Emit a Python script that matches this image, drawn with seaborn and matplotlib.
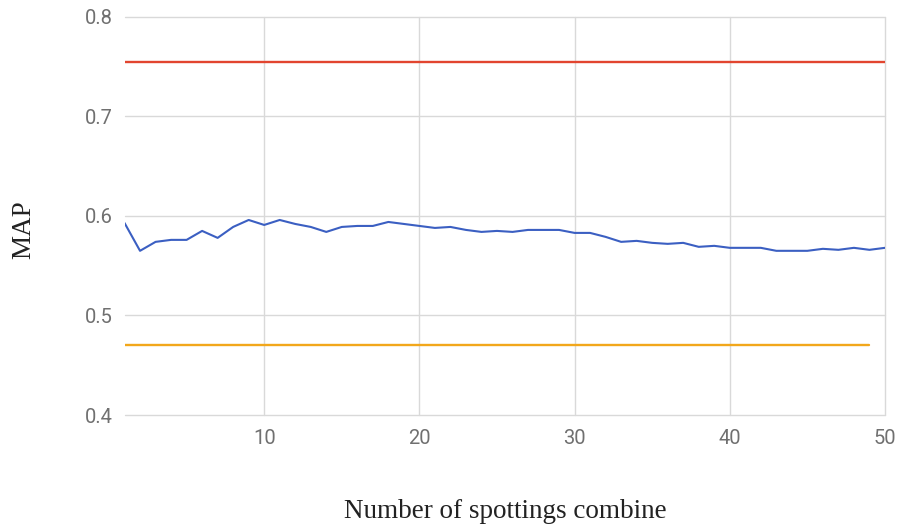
import matplotlib
matplotlib.use("Agg")
import matplotlib.pyplot as plt
import seaborn as sns
import pandas as pd

# MAP as a function of how many spottings are combined
n_combined = list(range(1, 51))
map_combined = [
    0.593, 0.565, 0.574, 0.576, 0.576, 0.585, 0.578, 0.589, 0.596, 0.591,
    0.596, 0.592, 0.589, 0.584, 0.589, 0.590, 0.590, 0.594, 0.592, 0.590,
    0.588, 0.589, 0.586, 0.584, 0.585, 0.584, 0.586, 0.586, 0.586, 0.583,
    0.583, 0.579, 0.574, 0.575, 0.573, 0.572, 0.573, 0.569, 0.570, 0.568,
    0.568, 0.568, 0.565, 0.565, 0.565, 0.567, 0.566, 0.568, 0.566, 0.568,
]

# Reference levels
upper_x = [1, 50]
upper_y = [0.755, 0.755]
lower_x = [1, 49]
lower_y = [0.47, 0.47]

x_ticks = [10, 20, 30, 40, 50]
y_ticks = [0.4, 0.5, 0.6, 0.7, 0.8]

sns.set_theme(style="whitegrid")
plt.rcParams["font.family"] = ["Roboto", "DejaVu Sans"]

fig = plt.figure(figsize=(9.01, 5.29), dpi=100)
ax = fig.add_axes([0.1382, 0.2155, 0.9822 - 0.1382, 0.9679 - 0.2155])

df = pd.DataFrame({"n": n_combined, "map": map_combined})
sns.lineplot(data=df, x="n", y="map", ax=ax, color="#3b5fc2", linewidth=1.5)
sns.lineplot(x=upper_x, y=upper_y, ax=ax, color="#e2452f", linewidth=1.7)
sns.lineplot(x=lower_x, y=lower_y, ax=ax, color="#f2a71b", linewidth=1.7)

ax.set_xlim(1, 50)
ax.set_ylim(0.4, 0.8)
ax.set_xticks(x_ticks)
ax.set_yticks(y_ticks)
ax.set_yticklabels([f"{v:.1f}" for v in y_ticks])

ax.grid(True, color="#d9d9d9", linewidth=1.0)
for gl in ax.get_xgridlines() + ax.get_ygridlines():
    gl.set_clip_on(False)
for side in ["left", "right", "top", "bottom"]:
    ax.spines[side].set_visible(False)
ax.tick_params(axis="both", length=0, labelsize=14.5, colors="#707070")
ax.tick_params(axis="x", pad=10)
ax.tick_params(axis="y", pad=8.5)

ax.set_xlabel("Number of spottings combine", family=["Liberation Serif"],
              fontsize=19.5, color="#222222", va="baseline")
ax.xaxis.set_label_coords(0.501, -0.2588)
ax.set_ylabel("MAP", family=["Liberation Serif"], fontsize=19.5,
              color="#222222", va="center")
ax.yaxis.set_label_coords(-0.1323, 0.467)

fig.savefig("out.png", dpi=100)
